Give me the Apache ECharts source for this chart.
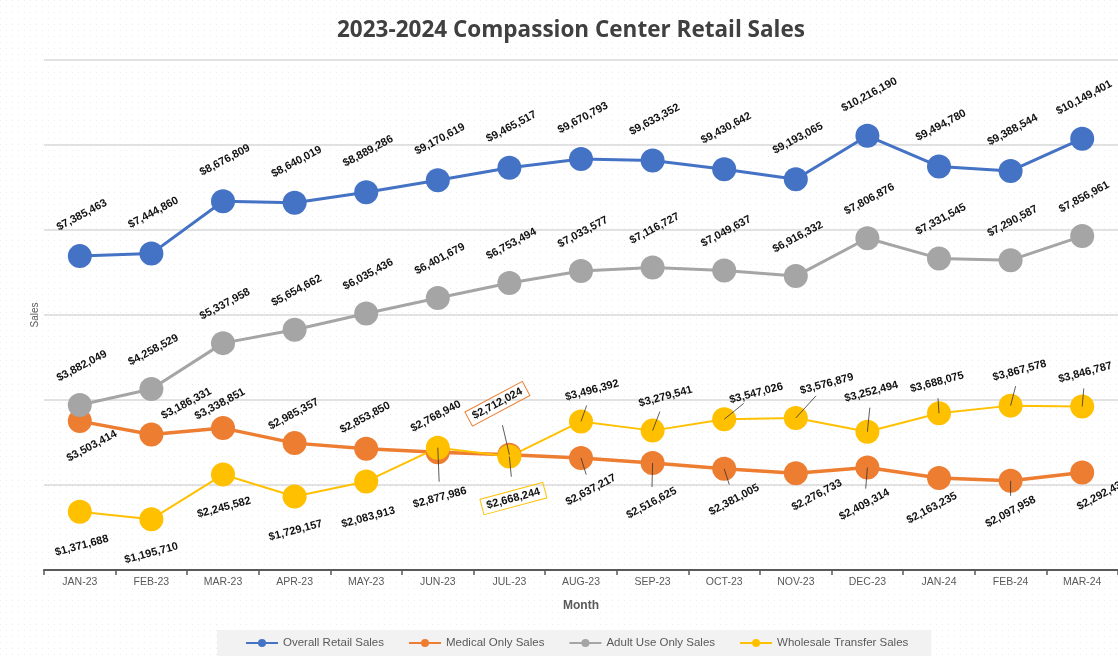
<!DOCTYPE html>
<html><head><meta charset="utf-8">
<script src="https://cdn.jsdelivr.net/npm/echarts@6/dist/echarts.min.js"></script>
<style>html,body{margin:0;padding:0;background:#fff}#c{width:1118px;height:656px}</style>
</head><body><div id="c"></div>
<script>
// ---- data ----
const months = ['JAN-23','FEB-23','MAR-23','APR-23','MAY-23','JUN-23','JUL-23','AUG-23','SEP-23','OCT-23','NOV-23','DEC-23','JAN-24','FEB-24','MAR-24'];
const overallSales = [7385463,7444860,8676809,8640019,8889286,9170619,9465517,9670793,9633352,9430642,9193065,10216190,9494780,9388544,10149401];
const medicalSales = [3503414,3186331,3338851,2985357,2853850,2768940,2712024,2637217,2516625,2381005,2276733,2409314,2163235,2097958,2292430];
const adultSales = [3882049,4258529,5337958,5654662,6035436,6401679,6753494,7033577,7116727,7049637,6916332,7806876,7331545,7290587,7856961];
const wholesaleSales = [1371688,1195710,2245582,1729157,2083913,2877986,2668244,3496392,3279541,3547026,3576879,3252494,3688075,3867578,3846787];
const seriesNames = ['Overall Retail Sales','Medical Only Sales','Adult Use Only Sales','Wholesale Transfer Sales'];

// ---- label placement (pixel offsets of label centre from marker centre) ----
const overallOff = months.map(() => [2, -41]);
const adultOff = months.map(() => [2, -39]);
const medicalOff = [[12,25],[35,-31],[-3,-24],[-1,-29],[-1,-31],[-2,-36],[-12,-51],[10,32],[-1,40],[10,31],[21,22],[-3,37],[-7,30],[0,31],[20,22]];
const wholesaleOff = [[2,34],[0,34],[1,33],[1,34],[2,36],[2,50],[4,42],[11,-31],[13,-34],[32,-26],[31,-34],[4,-40],[-2,-31],[9,-35],[3,-34]];
const medicalLeader = [0,0,0,0,0,0,1,1,1,1,0,1,0,1,0];
const wholesaleLeader = [0,0,0,0,0,1,1,1,1,1,1,1,1,1,1];
const noLeader = months.map(() => 0);

const colors = ['#4472C4','#ED7D31','#A5A5A5','#FFC000'];
const values = [overallSales, medicalSales, adultSales, wholesaleSales];
const offsets = [overallOff, medicalOff, adultOff, wholesaleOff];
const leaders = [noLeader, medicalLeader, noLeader, wholesaleLeader];
const rotations = [28, 28, 28, 15];
const lineWidths = [3, 3.5, 3, 2];
const boxed = {1: {6: '#ED7D31'}, 3: {6: '#FFC000'}};

function fmt(v) { return '$' + v.toLocaleString('en-US'); }

// dotted background pattern
const pat = document.createElement('canvas');
pat.width = 6; pat.height = 6;
const pctx = pat.getContext('2d');
pctx.fillStyle = '#ffffff'; pctx.fillRect(0,0,6,6);
pctx.fillStyle = '#ececec'; pctx.fillRect(0,0,1,1);

const LF = "'Liberation Sans', Arial, sans-serif";

const lineSeries = values.map((vals, s) => ({
  name: seriesNames[s],
  type: 'line',
  z: 2,
  data: vals.map((v, i) => {
    const item = { value: v };
    if (boxed[s] && boxed[s][i]) {
      item.label = { borderColor: boxed[s][i], borderWidth: 1, padding: [3, 5, 2, 5] };
    }
    return item;
  }),
  symbol: 'circle',
  symbolSize: 24,
  color: colors[s],
  lineStyle: { width: lineWidths[s], color: colors[s] },
  itemStyle: { color: colors[s] },
  label: {
    show: true,
    formatter: p => fmt(p.value),
    color: '#111',
    fontWeight: 'bold',
    fontSize: 11,
    fontFamily: LF,
    rotate: rotations[s]
  },
  labelLayout: function (p) {
    const o = offsets[s][p.dataIndex];
    const cx = p.rect.x + p.rect.width / 2;
    const cy = p.rect.y + p.rect.height / 2;
    return { x: cx + o[0], y: cy + o[1], align: 'center', verticalAlign: 'middle', rotate: rotations[s] };
  },
  emphasis: { disabled: true },
  animation: false
}));

// leader lines drawn on top of the markers
const leaderSeries = values.map((vals, s) => ({
  type: 'custom',
  z: 4,
  silent: true,
  data: vals.map((v, i) => [i, v]),
  renderItem: function (params, api) {
    const i = params.dataIndex;
    if (!leaders[s][i]) return { type: 'group', children: [] };
    const p = api.coord([api.value(0), api.value(1)]);
    const o = offsets[s][i];
    const len = Math.sqrt(o[0]*o[0] + o[1]*o[1]);
    const stop = (boxed[s] && boxed[s][i]) ? 22 : 16;
    const k = Math.max(0, (len - stop) / len);
    return {
      type: 'line',
      shape: { x1: p[0], y1: p[1], x2: p[0] + o[0]*k, y2: p[1] + o[1]*k },
      style: { stroke: '#333', lineWidth: 0.8 }
    };
  },
  animation: false
}));

const chart = echarts.init(document.getElementById('c'), null, { renderer: 'canvas' });
chart.setOption({
  backgroundColor: { image: pat, repeat: 'repeat' },
  animation: false,
  title: {
    text: '2023-2024 Compassion Center Retail Sales',
    left: 337, top: 19,
    padding: 0,
    textStyle: { fontFamily: "'Open Sans', sans-serif", fontWeight: 'bold', fontSize: 22.5, color: '#404040' }
  },
  legend: {
    bottom: 0,
    left: 217,
    padding: [7, 23, 7, 28],
    backgroundColor: '#f2f2f2',
    itemWidth: 32, itemHeight: 10, itemGap: 24,
    textStyle: { fontFamily: LF, fontSize: 11.5, color: '#595959' },
    data: seriesNames
  },
  grid: { left: 44, right: 0, top: 60, bottom: 86, containLabel: false },
  xAxis: {
    type: 'category',
    data: months,
    boundaryGap: true,
    name: 'Month',
    nameLocation: 'middle',
    nameGap: 30,
    nameTextStyle: { fontFamily: LF, fontWeight: 'bold', fontSize: 12, color: '#595959' },
    axisLine: { lineStyle: { color: '#595959', width: 2 } },
    axisTick: { show: true, length: 5, lineStyle: { color: '#595959', width: 1.5 } },
    axisLabel: { fontFamily: LF, fontSize: 10.5, color: '#595959', margin: 7 },
    splitLine: { show: false }
  },
  yAxis: {
    type: 'value',
    min: 0, max: 12000000, interval: 2000000,
    name: 'Sales',
    nameLocation: 'middle',
    nameGap: 4,
    nameTextStyle: { fontFamily: LF, fontSize: 10, color: '#595959' },
    axisLabel: { show: false },
    axisLine: { show: false },
    axisTick: { show: false },
    splitLine: { lineStyle: { color: '#d9d9d9', width: 1.5 } }
  },
  series: lineSeries.concat(leaderSeries)
});
</script>
</body></html>
